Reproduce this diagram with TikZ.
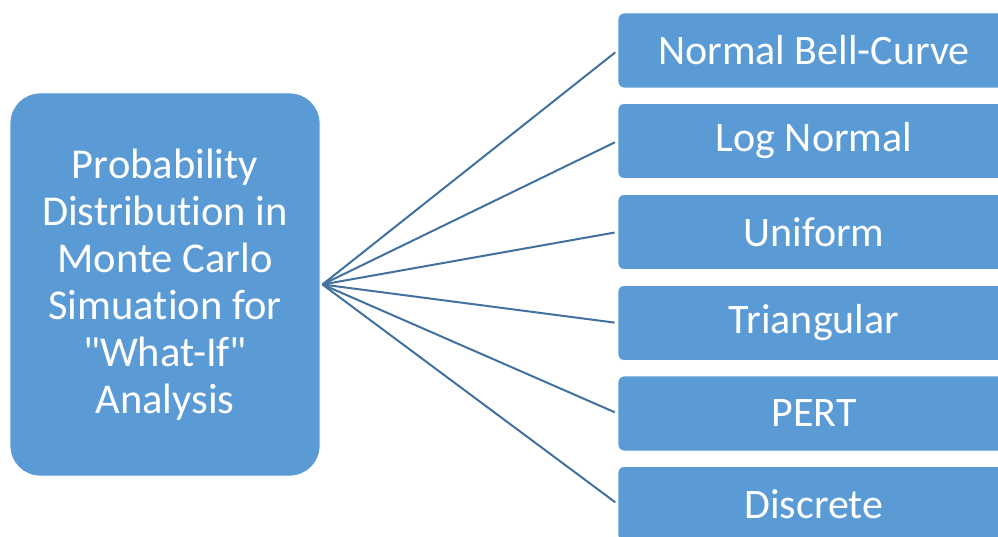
\documentclass[tikz,border=0pt]{standalone}
\usepackage{fontspec}
\setmainfont[Ligatures={NoCommon,TeXOff}]{Carlito}
\definecolor{boxblue}{HTML}{5B9BD5}
\definecolor{linkblue}{HTML}{41719C}
\begin{document}
\begin{tikzpicture}[x=1pt,y=1pt,
  mainbox/.style={draw=white,line width=0.8pt,fill=boxblue,rounded corners=30pt,minimum width=310pt,minimum height=383pt,inner sep=0pt,text=white,font=\fontsize{42.5}{47}\selectfont,align=center},
  itembox/.style={draw=white,line width=0.8pt,fill=boxblue,rounded corners=6pt,minimum width=392pt,minimum height=75pt,inner sep=0pt,text=white,font=\fontsize{42}{47}\selectfont},
  link/.style={draw=linkblue,line width=2pt,shorten >=3pt}]
\useasboundingbox (0,0) rectangle (998,536);
\clip (0,0) rectangle (998,536);
\node[mainbox] (main) at (165,251.5) {Probability\\Distribution in\\Monte Carlo\\Simuation for\\"What-If"\\Analysis};
\node[itembox] (b1) at (814,485.5) {Normal Bell-Curve};
\node[itembox] (b2) at (814,395) {Log Normal};
\node[itembox] (b3) at (814,304) {Uniform};
\node[itembox] (b4) at (814,213) {Triangular};
\node[itembox] (b5) at (814,122.5) {PERT};
\node[itembox] (b6) at (814,32) {Discrete};
\coordinate (hub) at ([xshift=2pt]main.east);
\foreach \b in {b1,b2,b3,b4,b5,b6} \draw[link] (hub) -- (\b.west);
\end{tikzpicture}
\end{document}
